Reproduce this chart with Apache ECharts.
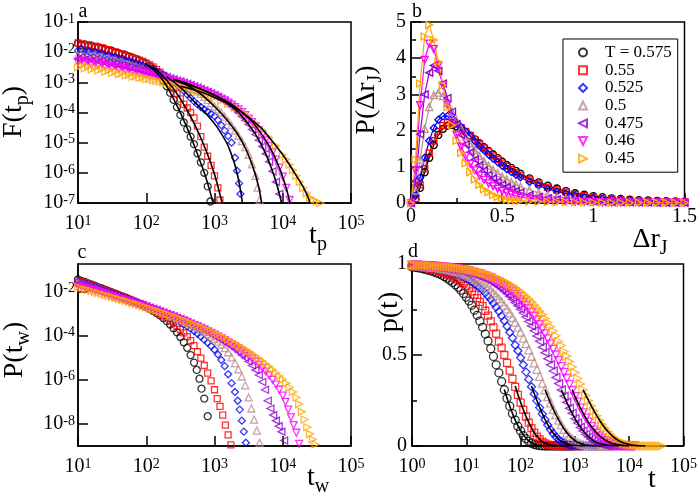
<!DOCTYPE html>
<html><head><meta charset="utf-8">
<script src="https://cdn.jsdelivr.net/npm/echarts@6/dist/echarts.min.js"></script>
<style>html,body{margin:0;padding:0;background:#fff}#c{width:700px;height:500px}</style>
</head><body><div id="c"></div><script>
// ---------- legend / series identity ----------
const NAMES = ['T = 0.575','0.55','0.525','0.5','0.475','0.46','0.45'];
// ---------- panel a : F(t_p), values are [log10 t_p, log10 F] ----------
const aF575 = [[1.00,-1.71],[1.05,-1.77],[1.10,-1.74],[1.15,-1.81],[1.20,-1.79],[1.25,-1.85],[1.30,-1.83],[1.35,-1.89],[1.40,-1.90],[1.45,-1.95],[1.50,-1.96],[1.55,-2.02],[1.60,-2.03],[1.65,-2.08],[1.70,-2.10],[1.75,-2.15],[1.80,-2.18],[1.85,-2.23],[1.90,-2.27],[1.95,-2.33],[2.00,-2.38],[2.05,-2.46],[2.10,-2.55],[2.15,-2.66],[2.20,-2.79],[2.25,-2.95],[2.30,-3.13],[2.35,-3.35],[2.40,-3.58],[2.45,-3.82],[2.50,-4.08],[2.55,-4.33],[2.60,-4.55],[2.65,-4.80],[2.70,-5.05],[2.75,-5.35],[2.80,-5.65],[2.85,-6.00],[2.90,-6.45],[2.94,-6.95]];
const aF55 = [[1.00,-1.69],[1.05,-1.73],[1.10,-1.76],[1.15,-1.75],[1.20,-1.81],[1.25,-1.80],[1.30,-1.86],[1.35,-1.85],[1.40,-1.92],[1.45,-1.92],[1.50,-1.98],[1.55,-1.99],[1.60,-2.05],[1.65,-2.06],[1.70,-2.12],[1.75,-2.14],[1.80,-2.19],[1.85,-2.22],[1.90,-2.27],[1.95,-2.31],[2.00,-2.36],[2.05,-2.42],[2.10,-2.49],[2.15,-2.57],[2.20,-2.66],[2.25,-2.77],[2.30,-2.90],[2.35,-3.05],[2.40,-3.20],[2.45,-3.37],[2.50,-3.55],[2.55,-3.72],[2.60,-3.85],[2.65,-4.00],[2.70,-4.18],[2.75,-4.45],[2.80,-4.80],[2.85,-5.15],[2.90,-5.45],[2.95,-5.75],[3.00,-6.10],[3.05,-6.50],[3.08,-6.90]];
const aF525 = [[1.00,-1.95],[1.05,-1.90],[1.10,-1.99],[1.15,-1.96],[1.20,-2.03],[1.25,-2.00],[1.30,-2.07],[1.35,-2.05],[1.40,-2.12],[1.45,-2.10],[1.50,-2.17],[1.55,-2.16],[1.60,-2.22],[1.65,-2.22],[1.70,-2.28],[1.75,-2.29],[1.80,-2.34],[1.85,-2.36],[1.90,-2.41],[1.95,-2.44],[2.00,-2.49],[2.05,-2.53],[2.10,-2.58],[2.15,-2.63],[2.20,-2.69],[2.25,-2.75],[2.30,-2.82],[2.35,-2.90],[2.40,-2.98],[2.45,-3.07],[2.50,-3.17],[2.55,-3.28],[2.60,-3.40],[2.65,-3.52],[2.70,-3.63],[2.75,-3.73],[2.80,-3.82],[2.85,-3.90],[2.90,-3.97],[2.95,-4.04],[3.00,-4.12],[3.05,-4.25],[3.10,-4.42],[3.15,-4.60],[3.20,-4.78],[3.25,-5.00],[3.30,-5.50],[3.33,-5.93],[3.36,-6.35],[3.38,-6.70]];
const aF5 = [[1.00,-2.10],[1.05,-2.05],[1.10,-2.13],[1.15,-2.09],[1.20,-2.17],[1.25,-2.13],[1.30,-2.21],[1.35,-2.18],[1.40,-2.25],[1.45,-2.23],[1.50,-2.30],[1.55,-2.28],[1.60,-2.35],[1.65,-2.34],[1.70,-2.40],[1.75,-2.41],[1.80,-2.46],[1.85,-2.48],[1.90,-2.52],[1.95,-2.55],[2.00,-2.59],[2.05,-2.62],[2.10,-2.66],[2.15,-2.70],[2.20,-2.74],[2.25,-2.78],[2.30,-2.82],[2.35,-2.86],[2.40,-2.91],[2.45,-2.96],[2.50,-3.01],[2.55,-3.06],[2.60,-3.11],[2.65,-3.17],[2.70,-3.23],[2.75,-3.30],[2.80,-3.38],[2.85,-3.48],[2.90,-3.58],[2.95,-3.69],[3.00,-3.80],[3.05,-3.90],[3.10,-4.00],[3.15,-4.14],[3.20,-4.28],[3.25,-4.43],[3.30,-4.60],[3.35,-4.77],[3.40,-4.95],[3.45,-5.15],[3.50,-5.40],[3.55,-5.72],[3.60,-6.10],[3.63,-6.49],[3.66,-6.90]];
const aF475 = [[1.00,-2.22],[1.05,-2.16],[1.10,-2.25],[1.15,-2.20],[1.20,-2.28],[1.25,-2.24],[1.30,-2.32],[1.35,-2.28],[1.40,-2.36],[1.45,-2.33],[1.50,-2.40],[1.55,-2.38],[1.60,-2.44],[1.65,-2.43],[1.70,-2.49],[1.75,-2.49],[1.80,-2.54],[1.85,-2.55],[1.90,-2.59],[1.95,-2.61],[2.00,-2.64],[2.05,-2.67],[2.10,-2.70],[2.15,-2.73],[2.20,-2.77],[2.25,-2.80],[2.30,-2.83],[2.35,-2.87],[2.40,-2.90],[2.45,-2.94],[2.50,-2.97],[2.55,-3.01],[2.60,-3.05],[2.65,-3.09],[2.70,-3.13],[2.75,-3.17],[2.80,-3.22],[2.85,-3.27],[2.90,-3.32],[2.95,-3.37],[3.00,-3.43],[3.05,-3.49],[3.10,-3.56],[3.15,-3.63],[3.20,-3.71],[3.25,-3.80],[3.30,-3.90],[3.35,-4.01],[3.40,-4.13],[3.45,-4.26],[3.50,-4.40],[3.55,-4.56],[3.60,-4.73],[3.65,-4.92],[3.70,-5.13],[3.75,-5.37],[3.80,-5.63],[3.85,-5.95],[3.90,-6.30],[3.95,-6.70]];
const aF46 = [[1.00,-2.34],[1.05,-2.28],[1.10,-2.37],[1.15,-2.31],[1.20,-2.40],[1.25,-2.35],[1.30,-2.43],[1.35,-2.39],[1.40,-2.47],[1.45,-2.43],[1.50,-2.51],[1.55,-2.48],[1.60,-2.55],[1.65,-2.53],[1.70,-2.59],[1.75,-2.58],[1.80,-2.63],[1.85,-2.63],[1.90,-2.68],[1.95,-2.69],[2.00,-2.73],[2.05,-2.75],[2.10,-2.78],[2.15,-2.81],[2.20,-2.84],[2.25,-2.87],[2.30,-2.90],[2.35,-2.93],[2.40,-2.96],[2.45,-2.99],[2.50,-3.02],[2.55,-3.05],[2.60,-3.09],[2.65,-3.12],[2.70,-3.16],[2.75,-3.20],[2.80,-3.24],[2.85,-3.28],[2.90,-3.33],[2.95,-3.38],[3.00,-3.43],[3.05,-3.48],[3.10,-3.54],[3.15,-3.60],[3.20,-3.67],[3.25,-3.74],[3.30,-3.82],[3.35,-3.90],[3.40,-3.99],[3.45,-4.09],[3.50,-4.20],[3.55,-4.32],[3.60,-4.45],[3.65,-4.59],[3.70,-4.75],[3.75,-4.92],[3.80,-5.11],[3.85,-5.32],[3.90,-5.56],[3.95,-5.83],[4.00,-6.13],[4.05,-6.50],[4.10,-6.90]];
const aF45 = [[1.00,-2.50],[1.05,-2.44],[1.10,-2.54],[1.15,-2.48],[1.20,-2.57],[1.25,-2.52],[1.30,-2.61],[1.35,-2.56],[1.40,-2.65],[1.45,-2.61],[1.50,-2.69],[1.55,-2.65],[1.60,-2.73],[1.65,-2.70],[1.70,-2.77],[1.75,-2.75],[1.80,-2.81],[1.85,-2.80],[1.90,-2.85],[1.95,-2.85],[2.00,-2.89],[2.05,-2.90],[2.10,-2.93],[2.15,-2.95],[2.20,-2.98],[2.25,-3.00],[2.30,-3.03],[2.35,-3.05],[2.40,-3.08],[2.45,-3.10],[2.50,-3.13],[2.55,-3.16],[2.60,-3.19],[2.65,-3.22],[2.70,-3.26],[2.75,-3.29],[2.80,-3.33],[2.85,-3.37],[2.90,-3.41],[2.95,-3.46],[3.00,-3.50],[3.10,-3.60],[3.20,-3.71],[3.30,-3.84],[3.40,-3.99],[3.50,-4.16],[3.60,-4.36],[3.70,-4.58],[3.80,-4.83],[3.90,-5.10],[4.00,-5.40],[4.05,-5.56],[4.10,-5.73],[4.15,-5.91],[4.20,-6.10],[4.25,-6.30],[4.30,-6.50],[4.35,-6.68],[4.40,-6.82],[4.45,-6.90],[4.50,-6.95],[4.55,-7.00]];
// fits of panel a (black lines)
const aFit575 = [[2.0,-2.40],[2.2,-2.80],[2.4,-3.55],[2.6,-4.52],[2.8,-5.68],[2.9,-6.35],[3.0,-7.2]];
const aFit55 = [[2.1,-2.50],[2.3,-2.93],[2.5,-3.55],[2.7,-4.35],[2.9,-5.40],[3.0,-6.05],[3.1,-6.9],[3.15,-7.4]];
const aFit525 = [[2.3,-2.82],[2.5,-3.17],[2.7,-3.63],[2.9,-4.10],[3.1,-4.70],[3.25,-5.40],[3.35,-6.20],[3.42,-7.2]];
const aFit5 = [[2.4,-2.91],[2.7,-3.23],[3.0,-3.80],[3.2,-4.30],[3.4,-4.95],[3.55,-5.72],[3.65,-6.50],[3.70,-7.2]];
const aFit475 = [[2.4,-2.90],[2.8,-3.22],[3.2,-3.71],[3.5,-4.40],[3.7,-5.13],[3.85,-5.95],[3.95,-6.70],[4.0,-7.2]];
const aFit46 = [[2.5,-3.00],[3.0,-3.43],[3.4,-3.99],[3.7,-4.75],[3.9,-5.56],[4.05,-6.50],[4.12,-7.2]];
const aFit45 = [[2.5,-3.13],[3.0,-3.50],[3.5,-4.16],[3.9,-5.10],[4.2,-6.10],[4.35,-6.70],[4.42,-7.2]];
// ---------- panel b : P(Δr_J) ----------
const bX = [0,0.025,0.05,0.075,0.1,0.125,0.15,0.175,0.2,0.225,0.25,0.275,0.3,0.325,0.35,0.375,0.4,0.425,0.45,0.475,0.5,0.525,0.55,0.575,0.6,0.65,0.7,0.75,0.8,0.85,0.9,0.95,1.0,1.05,1.1,1.15,1.2,1.25,1.3,1.35,1.4,1.45,1.5];
const bP575 = [0,0.10,0.42,0.85,1.25,1.60,1.88,2.05,2.14,2.16,2.12,2.05,1.96,1.86,1.76,1.65,1.54,1.44,1.34,1.24,1.14,1.05,0.97,0.89,0.81,0.68,0.57,0.48,0.40,0.33,0.27,0.23,0.19,0.16,0.13,0.11,0.09,0.08,0.07,0.06,0.05,0.045,0.04];
const bP55 = [0,0.12,0.50,0.95,1.38,1.72,1.97,2.14,2.22,2.22,2.17,2.08,1.98,1.87,1.75,1.63,1.52,1.41,1.30,1.20,1.10,1.01,0.92,0.84,0.77,0.64,0.53,0.44,0.36,0.30,0.24,0.20,0.16,0.13,0.11,0.09,0.075,0.06,0.05,0.045,0.04,0.035,0.03];
const bP525 = [0,0.20,0.70,1.25,1.72,2.07,2.30,2.40,2.40,2.33,2.22,2.10,1.97,1.84,1.71,1.58,1.46,1.34,1.23,1.13,1.03,0.94,0.86,0.78,0.71,0.58,0.48,0.39,0.32,0.26,0.21,0.17,0.14,0.11,0.09,0.075,0.06,0.05,0.045,0.04,0.035,0.03,0.025];
const bP5 = [0,0.35,1.20,2.05,2.65,2.98,3.05,2.95,2.75,2.52,2.28,2.05,1.84,1.64,1.46,1.30,1.16,1.03,0.92,0.82,0.73,0.65,0.58,0.51,0.45,0.36,0.28,0.22,0.17,0.14,0.11,0.09,0.07,0.06,0.05,0.04,0.035,0.03,0.025,0.02,0.02,0.015,0.015];
const bP475 = [0,0.60,1.90,3.00,3.60,3.80,3.65,3.30,2.90,2.52,2.18,1.88,1.62,1.40,1.20,1.04,0.90,0.78,0.68,0.59,0.51,0.44,0.38,0.33,0.29,0.22,0.17,0.13,0.10,0.08,0.06,0.05,0.04,0.03,0.025,0.02,0.02,0.015,0.015,0.01,0.01,0.01,0.01];
const bP46 = [0,0.90,2.70,3.95,4.40,4.25,3.80,3.25,2.72,2.26,1.88,1.56,1.30,1.08,0.90,0.76,0.64,0.54,0.46,0.39,0.33,0.28,0.24,0.20,0.17,0.13,0.10,0.075,0.06,0.045,0.035,0.03,0.025,0.02,0.015,0.015,0.01,0.01,0.01,0.01,0.01,0.01,0.01];
const bP45 = [0,1.20,3.30,4.60,4.92,4.50,3.90,3.25,2.65,2.15,1.72,1.38,1.10,0.85,0.65,0.50,0.38,0.30,0.22,0.17,0.13,0.10,0.08,0.07,0.06,0.045,0.035,0.03,0.025,0.02,0.02,0.015,0.015,0.01,0.01,0.01,0.01,0.01,0.01,0.01,0.01,0.01,0.01];
// ---------- panel c : P(t_w), values are [log10 t_w, log10 P] ----------
const cP575 = [[1.00,-1.45],[1.05,-1.52],[1.10,-1.56],[1.15,-1.63],[1.20,-1.69],[1.25,-1.74],[1.30,-1.81],[1.35,-1.86],[1.40,-1.92],[1.45,-1.98],[1.50,-2.04],[1.55,-2.10],[1.60,-2.16],[1.65,-2.22],[1.70,-2.28],[1.75,-2.35],[1.80,-2.41],[1.85,-2.48],[1.90,-2.55],[1.95,-2.62],[2.00,-2.70],[2.05,-2.78],[2.10,-2.87],[2.15,-2.97],[2.20,-3.08],[2.25,-3.20],[2.30,-3.34],[2.35,-3.49],[2.40,-3.66],[2.45,-3.85],[2.50,-4.06],[2.55,-4.30],[2.60,-4.55],[2.65,-4.88],[2.70,-5.22],[2.74,-5.55],[2.78,-5.95],[2.81,-6.40],[2.85,-6.85],[2.90,-7.65]];
const cP55 = [[1.00,-1.50],[1.05,-1.55],[1.10,-1.60],[1.15,-1.66],[1.20,-1.71],[1.25,-1.77],[1.30,-1.83],[1.35,-1.88],[1.40,-1.94],[1.45,-2.00],[1.50,-2.06],[1.55,-2.12],[1.60,-2.18],[1.65,-2.24],[1.70,-2.30],[1.75,-2.36],[1.80,-2.42],[1.85,-2.49],[1.90,-2.55],[1.95,-2.62],[2.00,-2.69],[2.05,-2.76],[2.10,-2.84],[2.15,-2.92],[2.20,-3.01],[2.25,-3.10],[2.30,-3.20],[2.35,-3.31],[2.40,-3.43],[2.45,-3.56],[2.50,-3.71],[2.55,-3.87],[2.60,-4.04],[2.65,-4.22],[2.70,-4.45],[2.75,-4.72],[2.80,-5.02],[2.85,-5.35],[2.90,-5.70],[2.95,-6.05],[3.00,-6.45],[3.04,-6.85],[3.08,-7.20],[3.12,-7.60],[3.16,-8.05],[3.20,-8.50],[3.24,-8.95]];
const cP525 = [[1.00,-1.55],[1.05,-1.60],[1.10,-1.64],[1.15,-1.70],[1.20,-1.75],[1.25,-1.80],[1.30,-1.86],[1.35,-1.91],[1.40,-1.97],[1.45,-2.02],[1.50,-2.08],[1.55,-2.13],[1.60,-2.19],[1.65,-2.25],[1.70,-2.30],[1.75,-2.36],[1.80,-2.42],[1.85,-2.48],[1.90,-2.54],[1.95,-2.60],[2.00,-2.66],[2.05,-2.72],[2.10,-2.79],[2.15,-2.85],[2.20,-2.92],[2.25,-2.99],[2.30,-3.06],[2.35,-3.14],[2.40,-3.22],[2.45,-3.30],[2.50,-3.39],[2.55,-3.48],[2.60,-3.58],[2.65,-3.68],[2.70,-3.79],[2.75,-3.91],[2.80,-4.04],[2.85,-4.18],[2.90,-4.32],[2.95,-4.47],[3.00,-4.64],[3.05,-4.85],[3.10,-5.10],[3.15,-5.38],[3.20,-5.75],[3.25,-6.15],[3.30,-6.55],[3.34,-6.95],[3.37,-7.35],[3.40,-7.85],[3.43,-8.35],[3.46,-8.85]];
const cP5 = [[1.00,-1.60],[1.05,-1.64],[1.10,-1.69],[1.15,-1.74],[1.20,-1.79],[1.25,-1.84],[1.30,-1.90],[1.35,-1.95],[1.40,-2.00],[1.45,-2.05],[1.50,-2.11],[1.55,-2.16],[1.60,-2.21],[1.65,-2.27],[1.70,-2.32],[1.75,-2.38],[1.80,-2.43],[1.85,-2.49],[1.90,-2.54],[1.95,-2.60],[2.00,-2.65],[2.05,-2.71],[2.10,-2.77],[2.15,-2.83],[2.20,-2.89],[2.25,-2.95],[2.30,-3.01],[2.35,-3.08],[2.40,-3.14],[2.45,-3.21],[2.50,-3.28],[2.55,-3.35],[2.60,-3.42],[2.65,-3.50],[2.70,-3.58],[2.75,-3.66],[2.80,-3.75],[2.85,-3.84],[2.90,-3.94],[2.95,-4.04],[3.00,-4.15],[3.05,-4.27],[3.10,-4.40],[3.15,-4.56],[3.20,-4.75],[3.25,-4.98],[3.30,-5.24],[3.35,-5.52],[3.40,-5.85],[3.45,-6.25],[3.50,-6.80],[3.54,-7.30],[3.58,-7.80],[3.62,-8.30],[3.66,-8.85]];
const cP475 = [[1.00,-1.68],[1.05,-1.73],[1.10,-1.77],[1.15,-1.82],[1.20,-1.87],[1.25,-1.92],[1.30,-1.97],[1.35,-2.02],[1.40,-2.07],[1.45,-2.12],[1.50,-2.17],[1.55,-2.22],[1.60,-2.27],[1.65,-2.32],[1.70,-2.37],[1.75,-2.42],[1.80,-2.47],[1.85,-2.52],[1.90,-2.57],[1.95,-2.62],[2.00,-2.67],[2.05,-2.72],[2.10,-2.78],[2.15,-2.83],[2.20,-2.89],[2.25,-2.95],[2.30,-3.01],[2.35,-3.07],[2.40,-3.13],[2.45,-3.19],[2.50,-3.25],[2.55,-3.32],[2.60,-3.39],[2.65,-3.46],[2.70,-3.53],[2.75,-3.60],[2.80,-3.68],[2.85,-3.76],[2.90,-3.84],[2.95,-3.92],[3.00,-4.01],[3.05,-4.10],[3.10,-4.19],[3.15,-4.29],[3.20,-4.39],[3.25,-4.50],[3.30,-4.62],[3.35,-4.74],[3.40,-4.87],[3.45,-5.01],[3.50,-5.17],[3.55,-5.35],[3.60,-5.55],[3.65,-5.78],[3.70,-6.10],[3.74,-6.45],[3.78,-6.95],[3.82,-7.30],[3.86,-7.60],[3.90,-7.85],[3.94,-8.10],[3.98,-8.35],[4.02,-8.75]];
const cP46 = [[1.00,-1.75],[1.05,-1.79],[1.10,-1.84],[1.15,-1.88],[1.20,-1.93],[1.25,-1.97],[1.30,-2.02],[1.35,-2.07],[1.40,-2.11],[1.45,-2.16],[1.50,-2.21],[1.55,-2.26],[1.60,-2.31],[1.65,-2.35],[1.70,-2.40],[1.75,-2.45],[1.80,-2.50],[1.85,-2.55],[1.90,-2.60],[1.95,-2.65],[2.00,-2.70],[2.05,-2.75],[2.10,-2.80],[2.15,-2.86],[2.20,-2.91],[2.25,-2.97],[2.30,-3.02],[2.35,-3.08],[2.40,-3.14],[2.45,-3.20],[2.50,-3.26],[2.55,-3.32],[2.60,-3.38],[2.65,-3.45],[2.70,-3.52],[2.75,-3.58],[2.80,-3.65],[2.85,-3.72],[2.90,-3.80],[2.95,-3.87],[3.00,-3.95],[3.05,-4.03],[3.10,-4.11],[3.15,-4.20],[3.20,-4.29],[3.25,-4.38],[3.30,-4.48],[3.35,-4.58],[3.40,-4.69],[3.45,-4.80],[3.50,-4.92],[3.55,-5.05],[3.60,-5.18],[3.65,-5.32],[3.70,-5.47],[3.75,-5.63],[3.80,-5.80],[3.85,-6.00],[3.90,-6.22],[3.95,-6.45],[4.00,-6.72],[4.04,-7.00],[4.08,-7.35],[4.12,-7.70],[4.16,-8.05],[4.20,-8.40],[4.24,-8.90]];
const cP45 = [[1.00,-1.80],[1.05,-1.84],[1.10,-1.88],[1.15,-1.93],[1.20,-1.97],[1.25,-2.02],[1.30,-2.06],[1.35,-2.11],[1.40,-2.15],[1.45,-2.20],[1.50,-2.24],[1.55,-2.29],[1.60,-2.33],[1.65,-2.38],[1.70,-2.42],[1.75,-2.47],[1.80,-2.52],[1.85,-2.56],[1.90,-2.61],[1.95,-2.66],[2.00,-2.71],[2.05,-2.76],[2.10,-2.81],[2.15,-2.86],[2.20,-2.91],[2.25,-2.96],[2.30,-3.01],[2.35,-3.07],[2.40,-3.12],[2.45,-3.18],[2.50,-3.23],[2.55,-3.29],[2.60,-3.35],[2.65,-3.41],[2.70,-3.47],[2.75,-3.53],[2.80,-3.60],[2.85,-3.66],[2.90,-3.73],[2.95,-3.80],[3.00,-3.87],[3.05,-3.94],[3.10,-4.02],[3.15,-4.09],[3.20,-4.17],[3.25,-4.25],[3.30,-4.34],[3.35,-4.43],[3.40,-4.52],[3.45,-4.61],[3.50,-4.71],[3.55,-4.81],[3.60,-4.92],[3.65,-5.03],[3.70,-5.15],[3.75,-5.27],[3.80,-5.40],[3.85,-5.54],[3.90,-5.68],[3.95,-5.83],[4.00,-5.99],[4.05,-6.16],[4.10,-6.35],[4.15,-6.55],[4.20,-6.80],[4.24,-7.10],[4.28,-7.45],[4.32,-7.80],[4.36,-8.15],[4.40,-8.45],[4.44,-8.70],[4.48,-8.93]];
// ---------- panel d : p(t), x = log10 t ----------
const dT = [0,0.05,0.1,0.15,0.2,0.25,0.3,0.35,0.4,0.45,0.5,0.55,0.6,0.65,0.7,0.75,0.8,0.85,0.9,0.95,1.0,1.05,1.1,1.15,1.2,1.25,1.3,1.35,1.4,1.45,1.5,1.55,1.6,1.65,1.7,1.75,1.8,1.85,1.9,1.95,2.0,2.05,2.1,2.15,2.2,2.25,2.3,2.35,2.4,2.45,2.5,2.55,2.6,2.65,2.7,2.75,2.8,2.85,2.9,2.95,3.0,3.05,3.1,3.15,3.2,3.25,3.3,3.35,3.4,3.45,3.5,3.55,3.6,3.65,3.7,3.75,3.8,3.85,3.9,3.95,4.0,4.05,4.1,4.15,4.2,4.25,4.3,4.35,4.4,4.45,4.5,4.55,4.6];
const dP575 = [0.984,0.982,0.980,0.977,0.974,0.970,0.966,0.962,0.957,0.951,0.946,0.938,0.930,0.921,0.910,0.899,0.886,0.872,0.856,0.838,0.818,0.797,0.773,0.746,0.718,0.686,0.652,0.615,0.577,0.535,0.492,0.446,0.402,0.354,0.309,0.262,0.219,0.178,0.142,0.108,0.083,0.057,0.040,0.025,0.016,0.009,0.005,0.002,0.001,0,0,0,0,0,0,0,0,0,0,0];
const dP55 = [0.989,0.987,0.986,0.984,0.982,0.979,0.977,0.974,0.970,0.967,0.962,0.958,0.952,0.947,0.941,0.933,0.924,0.915,0.904,0.893,0.880,0.866,0.850,0.832,0.813,0.792,0.768,0.743,0.716,0.685,0.652,0.617,0.574,0.541,0.500,0.457,0.414,0.369,0.325,0.281,0.238,0.199,0.162,0.128,0.098,0.073,0.051,0.036,0.023,0.014,0.008,0.0045,0.002,0.001,0,0,0,0,0,0,0,0,0];
const dP525 = [0.991,0.990,0.989,0.987,0.986,0.984,0.983,0.981,0.978,0.976,0.973,0.970,0.966,0.963,0.958,0.954,0.948,0.943,0.937,0.930,0.921,0.913,0.903,0.893,0.881,0.869,0.855,0.840,0.822,0.805,0.785,0.763,0.740,0.714,0.688,0.658,0.624,0.594,0.555,0.523,0.485,0.446,0.406,0.366,0.326,0.286,0.248,0.211,0.176,0.144,0.115,0.090,0.069,0.050,0.036,0.024,0.017,0.010,0.006,0.003,0.002,0.001,0,0,0,0,0,0,0];
const dP5 = [0.992,0.991,0.990,0.989,0.988,0.986,0.985,0.983,0.982,0.980,0.978,0.975,0.973,0.970,0.967,0.963,0.959,0.955,0.950,0.945,0.939,0.933,0.926,0.919,0.911,0.902,0.892,0.881,0.870,0.857,0.842,0.827,0.810,0.793,0.773,0.753,0.730,0.706,0.681,0.653,0.626,0.593,0.563,0.528,0.493,0.457,0.421,0.383,0.345,0.309,0.271,0.237,0.201,0.172,0.142,0.116,0.091,0.071,0.054,0.039,0.028,0.019,0.012,0.008,0.005,0.003,0.001,0.001,0,0,0,0,0,0,0];
const dP475 = [0.994,0.993,0.992,0.991,0.990,0.990,0.988,0.987,0.986,0.985,0.983,0.982,0.980,0.978,0.976,0.973,0.971,0.968,0.965,0.961,0.957,0.954,0.948,0.944,0.937,0.933,0.926,0.920,0.912,0.904,0.895,0.885,0.875,0.863,0.850,0.837,0.822,0.806,0.788,0.771,0.752,0.731,0.709,0.684,0.660,0.633,0.605,0.575,0.543,0.513,0.480,0.446,0.412,0.377,0.343,0.308,0.273,0.241,0.207,0.180,0.150,0.126,0.102,0.082,0.063,0.049,0.037,0.026,0.018,0.012,0.008,0.005,0.003,0.002,0.001,0,0,0,0,0,0];
const dP46 = [0.994,0.994,0.993,0.992,0.991,0.991,0.990,0.989,0.988,0.987,0.986,0.984,0.983,0.981,0.979,0.977,0.975,0.973,0.970,0.968,0.965,0.962,0.957,0.954,0.949,0.945,0.939,0.935,0.928,0.923,0.914,0.908,0.899,0.891,0.881,0.871,0.859,0.848,0.833,0.821,0.803,0.790,0.772,0.754,0.734,0.713,0.692,0.667,0.644,0.616,0.589,0.560,0.531,0.500,0.469,0.436,0.404,0.371,0.338,0.305,0.271,0.241,0.208,0.182,0.153,0.131,0.107,0.087,0.070,0.054,0.043,0.030,0.024,0.015,0.012,0.007,0.005,0.003,0.002,0.001,0,0,0];
const dP45 = [0.995,0.994,0.994,0.993,0.992,0.992,0.991,0.990,0.989,0.988,0.987,0.986,0.985,0.984,0.982,0.981,0.979,0.977,0.975,0.973,0.970,0.968,0.965,0.962,0.958,0.955,0.950,0.947,0.941,0.937,0.932,0.926,0.919,0.913,0.905,0.898,0.888,0.880,0.870,0.859,0.847,0.835,0.822,0.808,0.792,0.776,0.759,0.740,0.722,0.700,0.678,0.655,0.632,0.606,0.574,0.552,0.519,0.494,0.464,0.434,0.404,0.371,0.341,0.309,0.279,0.248,0.220,0.192,0.166,0.141,0.119,0.098,0.080,0.064,0.050,0.038,0.029,0.021,0.015,0.010,0.007,0.004,0.003,0.002,0.001,0,0,0,0,0,0,0,0];
const dFit575 = [[1.7,0.31],[1.8,0.22],[1.9,0.143],[2.0,0.085],[2.1,0.043],[2.2,0.018],[2.3,0.006],[2.45,0.001],[2.7,0]];
const dFit55 = [[1.9,0.33],[2.0,0.24],[2.1,0.163],[2.2,0.10],[2.3,0.053],[2.4,0.024],[2.5,0.009],[2.65,0.002],[2.9,0]];
const dFit525 = [[2.2,0.33],[2.3,0.25],[2.4,0.178],[2.5,0.117],[2.6,0.071],[2.7,0.038],[2.8,0.018],[2.95,0.004],[3.2,0]];
const dFit5 = [[2.45,0.31],[2.5,0.272],[2.6,0.203],[2.7,0.144],[2.8,0.094],[2.9,0.056],[3.0,0.030],[3.1,0.014],[3.25,0.003],[3.5,0]];
const dFit475 = [[2.75,0.31],[2.8,0.275],[2.9,0.209],[3.0,0.152],[3.1,0.104],[3.2,0.066],[3.3,0.039],[3.4,0.020],[3.55,0.006],[3.8,0]];
const dFit46 = [[2.95,0.31],[3.0,0.273],[3.1,0.21],[3.2,0.155],[3.3,0.109],[3.4,0.072],[3.5,0.045],[3.6,0.026],[3.75,0.009],[4.0,0]];
const dFit45 = [[3.15,0.31],[3.2,0.28],[3.3,0.222],[3.4,0.168],[3.5,0.121],[3.6,0.082],[3.7,0.052],[3.8,0.031],[3.9,0.017],[4.05,0.005],[4.3,0]];
// tick values
const decadeTicksC = [-8,-6,-4,-2];

// ---------- build ----------
const COLORS = ['#000000','#ff0000','#0000ff','#bc8f8f','#9400d3','#ff00ff','#ffa500'];
const SYMBOLS = ['circle','rect','diamond','triangle','path://M10,0L0,5L10,10Z','path://M0,0L10,0L5,10Z','path://M0,0L10,5L0,10Z'];
const SIZES = [7,6,7,7,7,7,7];
const FONT = 'Liberation Serif';
const A = [aF575,aF55,aF525,aF5,aF475,aF46,aF45];
const AFIT = [aFit575,aFit55,aFit525,aFit5,aFit475,aFit46,aFit45];
const B = [bP575,bP55,bP525,bP5,bP475,bP46,bP45];
const C = [cP575,cP55,cP525,cP5,cP475,cP46,cP45];
const D = [dP575,dP55,dP525,dP5,dP475,dP46,dP45];
const DFIT = [dFit575,dFit55,dFit525,dFit5,dFit475,dFit46,dFit45];

const series = [];
function mk(i, type, gi, data, extra) {
  return Object.assign({
    type: type, name: NAMES[i], xAxisIndex: gi, yAxisIndex: gi, data: data,
    symbol: SYMBOLS[i], symbolSize: SIZES[i], silent: true, z: 2,
    itemStyle: {color: 'rgba(255,255,255,0)', borderColor: COLORS[i], borderWidth: 1.3}
  }, extra || {});
}
for (let i = 0; i < 7; i++) series.push(mk(i, 'scatter', 0, A[i]));
for (let i = 0; i < 7; i++) series.push({type:'line', xAxisIndex:0, yAxisIndex:0, data:AFIT[i], smooth:true, symbol:'none', silent:true, z:3, lineStyle:{color:'#000', width:1.6}});
for (let i = 0; i < 7; i++) series.push(mk(i, 'line', 1, bX.map((x,k)=>[x,B[i][k]]), {lineStyle:{color:COLORS[i], width:1.2}, showSymbol:true}));
for (let i = 0; i < 7; i++) series.push(mk(i, 'scatter', 2, C[i]));
for (let i = 0; i < 7; i++) series.push(mk(i, 'scatter', 3, D[i].map((p,k)=>[dT[k],p]), {symbolSize: SIZES[i] + 1}));
for (let i = 0; i < 7; i++) series.push({type:'line', xAxisIndex:3, yAxisIndex:3, data:DFIT[i], smooth:true, symbol:'none', silent:true, z:3, lineStyle:{color:'#000', width:1.6}});

const richTick = {b:{fontSize:20, fontFamily:FONT, color:'#000', lineHeight:20}, s:{fontSize:14, fontFamily:FONT, color:'#000', lineHeight:6, verticalAlign:'top'}};
const pow10 = v => '{b|10}{s|' + Math.round(v) + '}';
const line = {show:true, lineStyle:{color:'#000', width:1.5}};
function axis(gi, o) {
  return Object.assign({
    type:'value', gridIndex:gi, splitLine:{show:false}, axisLine:line,
    axisTick:{show:true, inside:true, length:10, lineStyle:{color:'#000', width:1.5}},
    axisLabel:{color:'#000', fontFamily:FONT, fontSize:20}
  }, o);
}
const minor = {show:true, splitNumber:2, length:5, lineStyle:{color:'#000', width:1.5}};
const xAxis = [
  axis(0, {min:1, max:5, interval:1, axisLabel:{formatter:pow10, rich:richTick, margin:11}}),
  axis(1, {min:0, max:1.5, interval:0.5, minorTick:minor, axisLabel:{color:'#000', fontFamily:FONT, fontSize:20, margin:4}}),
  axis(2, {min:1, max:5, interval:1, axisLabel:{formatter:pow10, rich:richTick, margin:11}}),
  axis(3, {min:0, max:5, interval:1, axisLabel:{formatter:pow10, rich:richTick, margin:11}})
];
const yAxis = [
  axis(0, {min:-7, max:-1, interval:1, axisLabel:{formatter:pow10, rich:richTick, margin:3}}),
  axis(1, {min:0, max:5, interval:1, minorTick:minor, axisLabel:{color:'#000', fontFamily:FONT, fontSize:20, margin:5}}),
  axis(2, {min:-9, max:-0.75, axisTick:{show:true, inside:true, length:10, customValues:decadeTicksC, lineStyle:{color:'#000', width:1.5}}, axisLabel:{formatter:pow10, rich:richTick, margin:3, customValues:decadeTicksC}}),
  axis(3, {min:0, max:1, interval:0.5, minorTick:minor, axisLabel:{color:'#000', fontFamily:FONT, fontSize:20, margin:5}})
];
const grid = [
  {left:78, top:22, width:273, height:181},
  {left:411, top:22, width:274, height:181},
  {left:78, top:264, width:273, height:182},
  {left:412, top:264, width:273, height:182}
].map(g => Object.assign(g, {show:true, borderColor:'#000', borderWidth:1.5, backgroundColor:'rgba(0,0,0,0)'}));

const titleRich = {
  n:{fontSize:28, fontFamily:FONT, color:'#000', lineHeight:28, verticalAlign:'middle'},
  u:{fontSize:20, fontFamily:FONT, color:'#000', verticalAlign:'middle', padding:[18,0,0,0]}
};
function txt(x, y, text, rot, size) {
  return {type:'text', x:x, y:y, rotation:rot||0, silent:true, z:10,
    style:{text:text, x:0, y:0, fill:'#000', font:(size||28)+'px "'+FONT+'"', rich:titleRich,
      align:'center', verticalAlign:'middle', textAlign:'center', textVerticalAlign:'middle'}};
}
const graphic = [
  txt(83, 12, 'a', 0, 20), txt(417, 12, 'b', 0, 20), txt(82, 253, 'c', 0, 20), txt(413, 252, 'd', 0, 20),
  txt(14, 112, '{n|F(t}{u|p}{n|)}', Math.PI/2),
  txt(367, 100, '{n|P(Δr}{u|J}{n|)}', Math.PI/2),
  txt(15, 350, '{n|P(t}{u|w}{n|)}', Math.PI/2),
  txt(390, 312, '{n|p(t)}', Math.PI/2),
  txt(318, 236, '{n|t}{u|p}'),
  txt(650, 240, '{n|Δr}{u|J}'),
  txt(318, 478, '{n|t}{u|w}'),
  txt(652, 480, '{n|t}')
];

const chart = echarts.init(document.getElementById('c'), null, {renderer:'canvas'});
chart.setOption({
  animation:false, backgroundColor:'#fff',
  grid:grid, xAxis:xAxis, yAxis:yAxis, series:series, graphic:graphic,
  legend:{data:NAMES, orient:'vertical', left:563, top:39, padding:[5,6,5,15], itemWidth:8, itemHeight:8, itemGap:0.7,
    backgroundColor:'#fff', borderColor:'#000', borderWidth:1, selectedMode:false, z:20,
    formatter: n => '{t|' + n + '}',
    textStyle:{fontFamily:FONT, fontSize:17, color:'#000', lineHeight:17, rich:{t:{fontFamily:FONT, fontSize:17, color:'#000', lineHeight:17, padding:[0,0,0,13]}}}}
});
</script></body></html>
